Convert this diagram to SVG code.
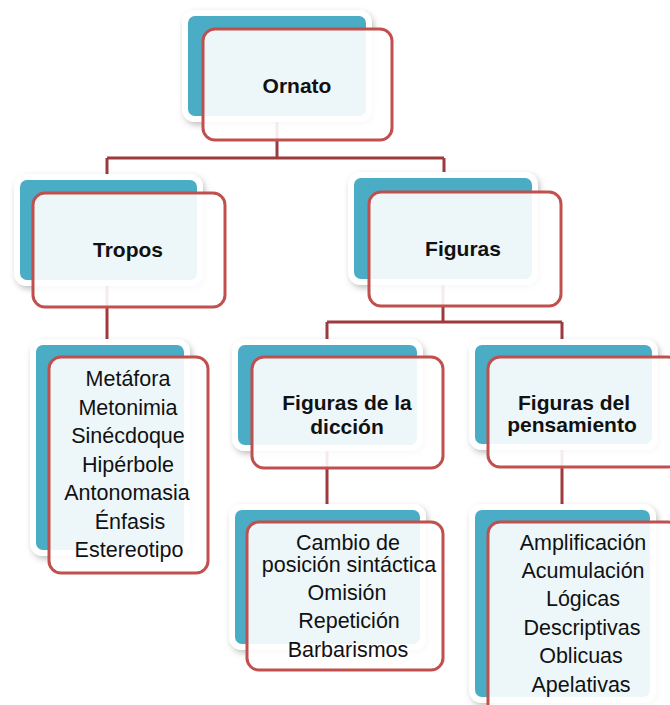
<svg xmlns="http://www.w3.org/2000/svg" width="670" height="705" viewBox="0 0 670 705">
<defs>
<filter id="sh" x="-20%" y="-20%" width="140%" height="140%">
<feDropShadow dx="2" dy="3" stdDeviation="3" flood-color="#000" flood-opacity="0.25"/>
</filter>
<style>
.back{fill:#4BACC6;stroke:#ffffff;stroke-width:6;filter:url(#sh)}
.front{fill:#ffffff;fill-opacity:0.9;stroke:#C0504D;stroke-width:3}
.conn{fill:none;stroke:#9E3A3D;stroke-width:3}
.h{font-family:"Liberation Sans",Arial,sans-serif;font-weight:bold;font-size:21px;fill:#111;text-anchor:middle}
.t{font-family:"Liberation Sans",Arial,sans-serif;font-size:21.5px;fill:#111;text-anchor:middle}
</style>
</defs>
<rect width="670" height="705" fill="#ffffff"/>
<g id="connectors">
<path class="conn" d="M277,119 V158 M107,158 H444 M107,158 V193 M444,158 V192"/>
<path class="conn" d="M107,283 V357"/>
<path class="conn" d="M443,282 V322 M327,322 H562 M327,322 V357 M562,322 V357"/>
<path class="conn" d="M327,448 V522"/>
<path class="conn" d="M562,447 V522"/>
</g>
<g id="ornato">
<rect class="back" x="185" y="13" width="184" height="106" rx="10"/>
<rect class="front" x="203" y="29" width="189" height="111" rx="12"/>
<text class="h" x="297" y="93">Ornato</text>
</g>
<g id="tropos">
<rect class="back" x="17" y="177" width="183" height="106" rx="10"/>
<rect class="front" x="33" y="193" width="192" height="114" rx="12"/>
<text class="h" x="128" y="257">Tropos</text>
</g>
<g id="figuras">
<rect class="back" x="351" y="175" width="184" height="107" rx="10"/>
<rect class="front" x="369" y="192" width="192" height="114" rx="12"/>
<text class="h" x="463" y="256">Figuras</text>
</g>
<g id="tropos-lista">
<rect class="back" x="33" y="342" width="154" height="211" rx="10"/>
<rect class="front" x="49" y="357" width="159" height="216" rx="12"/>
<text class="t" x="128" y="386">Metáfora</text>
<text class="t" x="128" y="414.5">Metonimia</text>
<text class="t" x="128" y="443">Sinécdoque</text>
<text class="t" x="128" y="471.5">Hipérbole</text>
<text class="t" x="127" y="500">Antonomasia</text>
<text class="t" x="130" y="528.5">Énfasis</text>
<text class="t" x="129" y="557">Estereotipo</text>
</g>
<g id="diccion">
<rect class="back" x="235" y="342" width="185" height="106" rx="10"/>
<rect class="front" x="252" y="357" width="191" height="111" rx="12"/>
<text class="h" x="347" y="410">Figuras de la</text>
<text class="h" x="347" y="434">dicción</text>
</g>
<g id="pensamiento">
<rect class="back" x="472" y="342" width="183" height="105" rx="10"/>
<rect class="front" x="488" y="357" width="192" height="110" rx="12"/>
<text class="h" x="574" y="410">Figuras del</text>
<text class="h" x="572" y="432">pensamiento</text>
</g>
<g id="diccion-lista">
<rect class="back" x="232" y="507" width="191" height="140" rx="10"/>
<rect class="front" x="247" y="522" width="196" height="148" rx="12"/>
<text class="t" x="348" y="550">Cambio de</text>
<text class="t" x="349" y="572">posición sintáctica</text>
<text class="t" x="347" y="600">Omisión</text>
<text class="t" x="349" y="628">Repetición</text>
<text class="t" x="348" y="656.5">Barbarismos</text>
</g>
<g id="pensamiento-lista">
<rect class="back" x="472" y="507" width="181" height="193" rx="10"/>
<rect class="front" x="488" y="522" width="192" height="200" rx="12"/>
<text class="t" x="583" y="550">Amplificación</text>
<text class="t" x="583" y="578">Acumulación</text>
<text class="t" x="583" y="606">Lógicas</text>
<text class="t" x="582" y="635">Descriptivas</text>
<text class="t" x="581" y="663">Oblicuas</text>
<text class="t" x="581" y="692">Apelativas</text>
</g>
</svg>
